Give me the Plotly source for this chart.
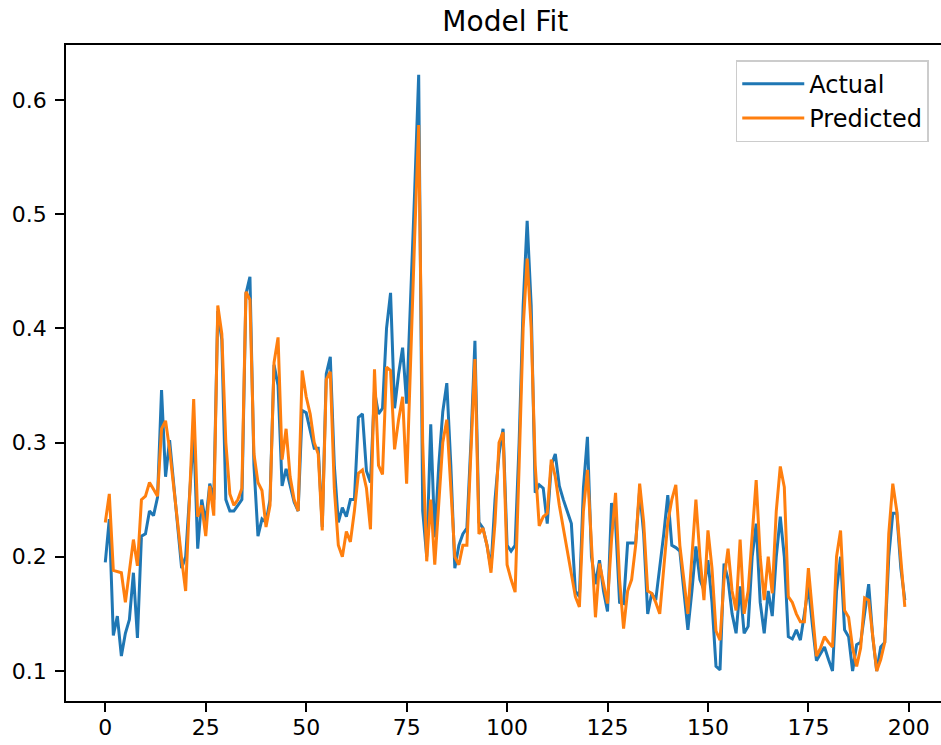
import plotly.graph_objects as go

index = list(range(200))

actual = [
    0.195, 0.233, 0.131, 0.148, 0.113, 0.133, 0.145, 0.186, 0.129, 0.218,
    0.220, 0.240, 0.236, 0.252, 0.346, 0.270, 0.302, 0.265, 0.225, 0.190,
    0.200, 0.255, 0.310, 0.207, 0.250, 0.230, 0.264, 0.250, 0.415, 0.390,
    0.250, 0.240, 0.240, 0.245, 0.250, 0.430, 0.445, 0.280, 0.218, 0.233,
    0.230, 0.250, 0.368, 0.350, 0.262, 0.277, 0.262, 0.248, 0.240, 0.328,
    0.326, 0.310, 0.295, 0.295, 0.226, 0.360, 0.375, 0.280, 0.230, 0.243,
    0.235, 0.250, 0.250, 0.322, 0.325, 0.275, 0.265, 0.345, 0.325, 0.330,
    0.400, 0.431, 0.330, 0.360, 0.383, 0.334, 0.420, 0.520, 0.622, 0.240,
    0.200, 0.316, 0.217, 0.280, 0.327, 0.352, 0.280, 0.190, 0.210, 0.220,
    0.225, 0.300, 0.389, 0.230, 0.225, 0.210, 0.190, 0.250, 0.290, 0.312,
    0.210, 0.205, 0.210, 0.300, 0.420, 0.494, 0.420, 0.256, 0.263, 0.260,
    0.229, 0.280, 0.290, 0.262, 0.250, 0.240, 0.229, 0.170, 0.165, 0.260,
    0.305, 0.200, 0.176, 0.197, 0.170, 0.152, 0.247, 0.230, 0.160, 0.159,
    0.212, 0.212, 0.212, 0.258, 0.220, 0.150, 0.168, 0.162, 0.190, 0.220,
    0.254, 0.210, 0.208, 0.205, 0.170, 0.136, 0.170, 0.209, 0.180, 0.171,
    0.197, 0.160, 0.104, 0.101, 0.194, 0.180, 0.150, 0.133, 0.174, 0.133,
    0.139, 0.200, 0.229, 0.160, 0.133, 0.170, 0.148, 0.200, 0.235, 0.200,
    0.130, 0.128, 0.136, 0.127, 0.150, 0.174, 0.140, 0.109, 0.115, 0.121,
    0.110, 0.100, 0.170, 0.200, 0.136, 0.130, 0.100, 0.123, 0.125, 0.150,
    0.176, 0.130, 0.100, 0.121, 0.125, 0.200, 0.238, 0.238, 0.190, 0.162,
]

predicted = [
    0.230, 0.255, 0.188, 0.187, 0.186, 0.160, 0.190, 0.215, 0.192, 0.250,
    0.253, 0.265, 0.259, 0.253, 0.312, 0.319, 0.294, 0.262, 0.225, 0.198,
    0.170, 0.250, 0.338, 0.235, 0.245, 0.218, 0.262, 0.236, 0.420, 0.395,
    0.300, 0.255, 0.245, 0.250, 0.260, 0.432, 0.425, 0.290, 0.265, 0.258,
    0.226, 0.245, 0.370, 0.392, 0.285, 0.312, 0.270, 0.250, 0.240, 0.363,
    0.340, 0.325, 0.300, 0.290, 0.223, 0.355, 0.362, 0.260, 0.210, 0.200,
    0.222, 0.213, 0.240, 0.273, 0.276, 0.260, 0.224, 0.364, 0.280, 0.272,
    0.366, 0.363, 0.294, 0.320, 0.340, 0.264, 0.380, 0.480, 0.578, 0.300,
    0.196, 0.250, 0.193, 0.250, 0.300, 0.320, 0.260, 0.200, 0.193, 0.210,
    0.210, 0.290, 0.373, 0.220, 0.225, 0.210, 0.186, 0.230, 0.300, 0.309,
    0.193, 0.180, 0.169, 0.280, 0.400, 0.461, 0.400, 0.280, 0.227, 0.235,
    0.238, 0.285, 0.270, 0.245, 0.225, 0.205, 0.188, 0.165, 0.156, 0.240,
    0.276, 0.210, 0.147, 0.194, 0.175, 0.159, 0.215, 0.256, 0.180, 0.137,
    0.170, 0.180, 0.210, 0.264, 0.230, 0.170, 0.168, 0.160, 0.150, 0.190,
    0.230, 0.250, 0.263, 0.210, 0.180, 0.150, 0.200, 0.250, 0.200, 0.162,
    0.223, 0.190, 0.135, 0.127, 0.180, 0.207, 0.170, 0.153, 0.215, 0.150,
    0.170, 0.220, 0.267, 0.200, 0.162, 0.200, 0.168, 0.240, 0.279, 0.261,
    0.165, 0.160, 0.150, 0.143, 0.143, 0.190, 0.150, 0.113, 0.120, 0.130,
    0.125, 0.121, 0.200, 0.223, 0.153, 0.147, 0.120, 0.104, 0.120, 0.164,
    0.162, 0.130, 0.100, 0.110, 0.125, 0.220, 0.264, 0.240, 0.200, 0.156,
]

x_ticks = [0, 25, 50, 75, 100, 125, 150, 175, 200]
y_ticks = [0.1, 0.2, 0.3, 0.4, 0.5, 0.6]
y_tick_labels = ["0.1", "0.2", "0.3", "0.4", "0.5", "0.6"]

fig = go.Figure()
fig.add_trace(go.Scatter(x=index, y=actual, mode="lines", name="Actual",
                         line=dict(color="#1f77b4", width=3.0)))
fig.add_trace(go.Scatter(x=index, y=predicted, mode="lines", name="Predicted",
                         line=dict(color="#ff7f0e", width=3.0)))

font_family = "DejaVu Sans, sans-serif"
fig.update_layout(
    width=941, height=745,
    margin=dict(l=66, r=0, t=45, b=44),
    paper_bgcolor="white", plot_bgcolor="white",
    font=dict(family=font_family, color="#000000", size=22),
    title=dict(text="Model Fit", x=0.502, xref="paper", y=0.972, yref="container",
               xanchor="center", yanchor="middle",
               font=dict(family=font_family, size=28, color="#000000")),
    showlegend=True,
    legend=dict(x=0.986, y=0.977, xanchor="right", yanchor="top",
                bgcolor="rgba(255,255,255,0.8)", bordercolor="#cccccc", borderwidth=1.5,
                font=dict(family=font_family, size=24, color="#000000"),
                itemwidth=62, tracegroupgap=0),
)
fig.update_xaxes(range=[-9.78, 208.0], tickmode="array", tickvals=x_ticks,
                 ticktext=[str(t) for t in x_ticks],
                 showgrid=False, zeroline=False, showline=True, linecolor="black",
                 linewidth=1.6, mirror=True, ticks="outside", ticklen=9,
                 tickwidth=1.6, tickcolor="black", tickfont=dict(size=22),
                 ticklabelstandoff=-3)
fig.update_yaxes(range=[0.0737, 0.648], tickmode="array", tickvals=y_ticks,
                 ticktext=y_tick_labels,
                 showgrid=False, zeroline=False, showline=True, linecolor="black",
                 linewidth=1.6, mirror=False, ticks="outside", ticklen=9,
                 tickwidth=1.6, tickcolor="black", tickfont=dict(size=22),
                 ticklabelstandoff=4)

fig.write_html("out.html")
